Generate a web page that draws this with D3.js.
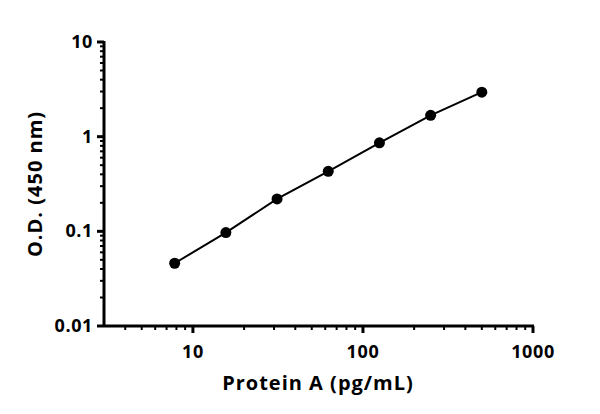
<!DOCTYPE html>
<html><head><meta charset="utf-8">
<script src="https://cdn.jsdelivr.net/npm/d3@7"></script>
<style>body{margin:0;background:#fff}svg{display:block}text{font-family:"Open Sans",Lato,sans-serif;font-weight:700;fill:#000}</style>
</head><body><svg width="600" height="414"></svg>
<script>
const concentrations=[7.8125,15.625,31.25,62.5,125,250,500];
const odValues=[0.046,0.097,0.22,0.43,0.86,1.68,2.95];
const xTicks=[10,100,1000];
const yTicks=[0.01,0.1,1,10];
const yTickLabels=["0.01","0.1","1","10"];

const svg=d3.select("svg");
const x=d3.scaleLog().domain([3,1000]).range([104,533]);
const y=d3.scaleLog().domain([0.01,10]).range([326,42]);
const g=svg.append("g");

const xa=g.append("g");
xa.append("line").attr("x1",104).attr("x2",534).attr("y1",326).attr("y2",326).attr("stroke","#000").attr("stroke-width",3);
const xMinor=[];
for(let d=1;d<1000;d*=10)for(let k=2;k<=9;k++){const v=k*d;if(v>=3.99&&v<1000&&![10,100].includes(v))xMinor.push(v);}
xa.selectAll(".xm").data(xMinor).join("line").attr("x1",d=>x(d)).attr("x2",d=>x(d)).attr("y1",326).attr("y2",330).attr("stroke","#000").attr("stroke-width",2);
xa.selectAll(".xM").data(xTicks).join("line").attr("x1",d=>x(d)).attr("x2",d=>x(d)).attr("y1",326).attr("y2",333).attr("stroke","#000").attr("stroke-width",3);
xa.selectAll(".xl").data(xTicks).join("text").attr("x",d=>x(d)).attr("y",358).attr("text-anchor","middle").attr("font-size",18).attr("letter-spacing",0.6).text(d=>d);

const ya=g.append("g");
ya.append("line").attr("x1",104).attr("x2",104).attr("y1",41).attr("y2",327).attr("stroke","#000").attr("stroke-width",3);
const yMinor=[];
for(let d=0.01;d<9;d*=10)for(let k=2;k<=9;k++)yMinor.push(k*d);
ya.selectAll(".ym").data(yMinor).join("line").attr("x1",100).attr("x2",104).attr("y1",d=>y(d)).attr("y2",d=>y(d)).attr("stroke","#000").attr("stroke-width",2);
ya.selectAll(".yM").data(yTicks).join("line").attr("x1",97).attr("x2",104).attr("y1",d=>y(d)).attr("y2",d=>y(d)).attr("stroke","#000").attr("stroke-width",3);
ya.selectAll(".yl").data(yTicks).join("text").attr("x",93).attr("y",d=>y(d)+6).attr("text-anchor","end").attr("font-size",18).attr("letter-spacing",0.6).text((d,i)=>yTickLabels[i]);

svg.append("text").attr("x",318).attr("y",390).attr("text-anchor","middle").attr("font-size",20).attr("letter-spacing",1).text("Protein A (pg/mL)");
svg.append("text").attr("transform","translate(42,184) rotate(-90)").attr("text-anchor","middle").attr("font-size",20).attr("letter-spacing",1).text("O.D. (450 nm)");

const data=concentrations.map((c,i)=>({c,v:odValues[i]}));
g.append("path").datum(data).attr("fill","none").attr("stroke","#000").attr("stroke-width",2)
 .attr("d",d3.line().x(d=>x(d.c)).y(d=>y(d.v)));
g.selectAll(".pt").data(data).join("circle").attr("cx",d=>x(d.c)).attr("cy",d=>y(d.v)).attr("r",5.5).attr("fill","#000");
</script></body></html>
